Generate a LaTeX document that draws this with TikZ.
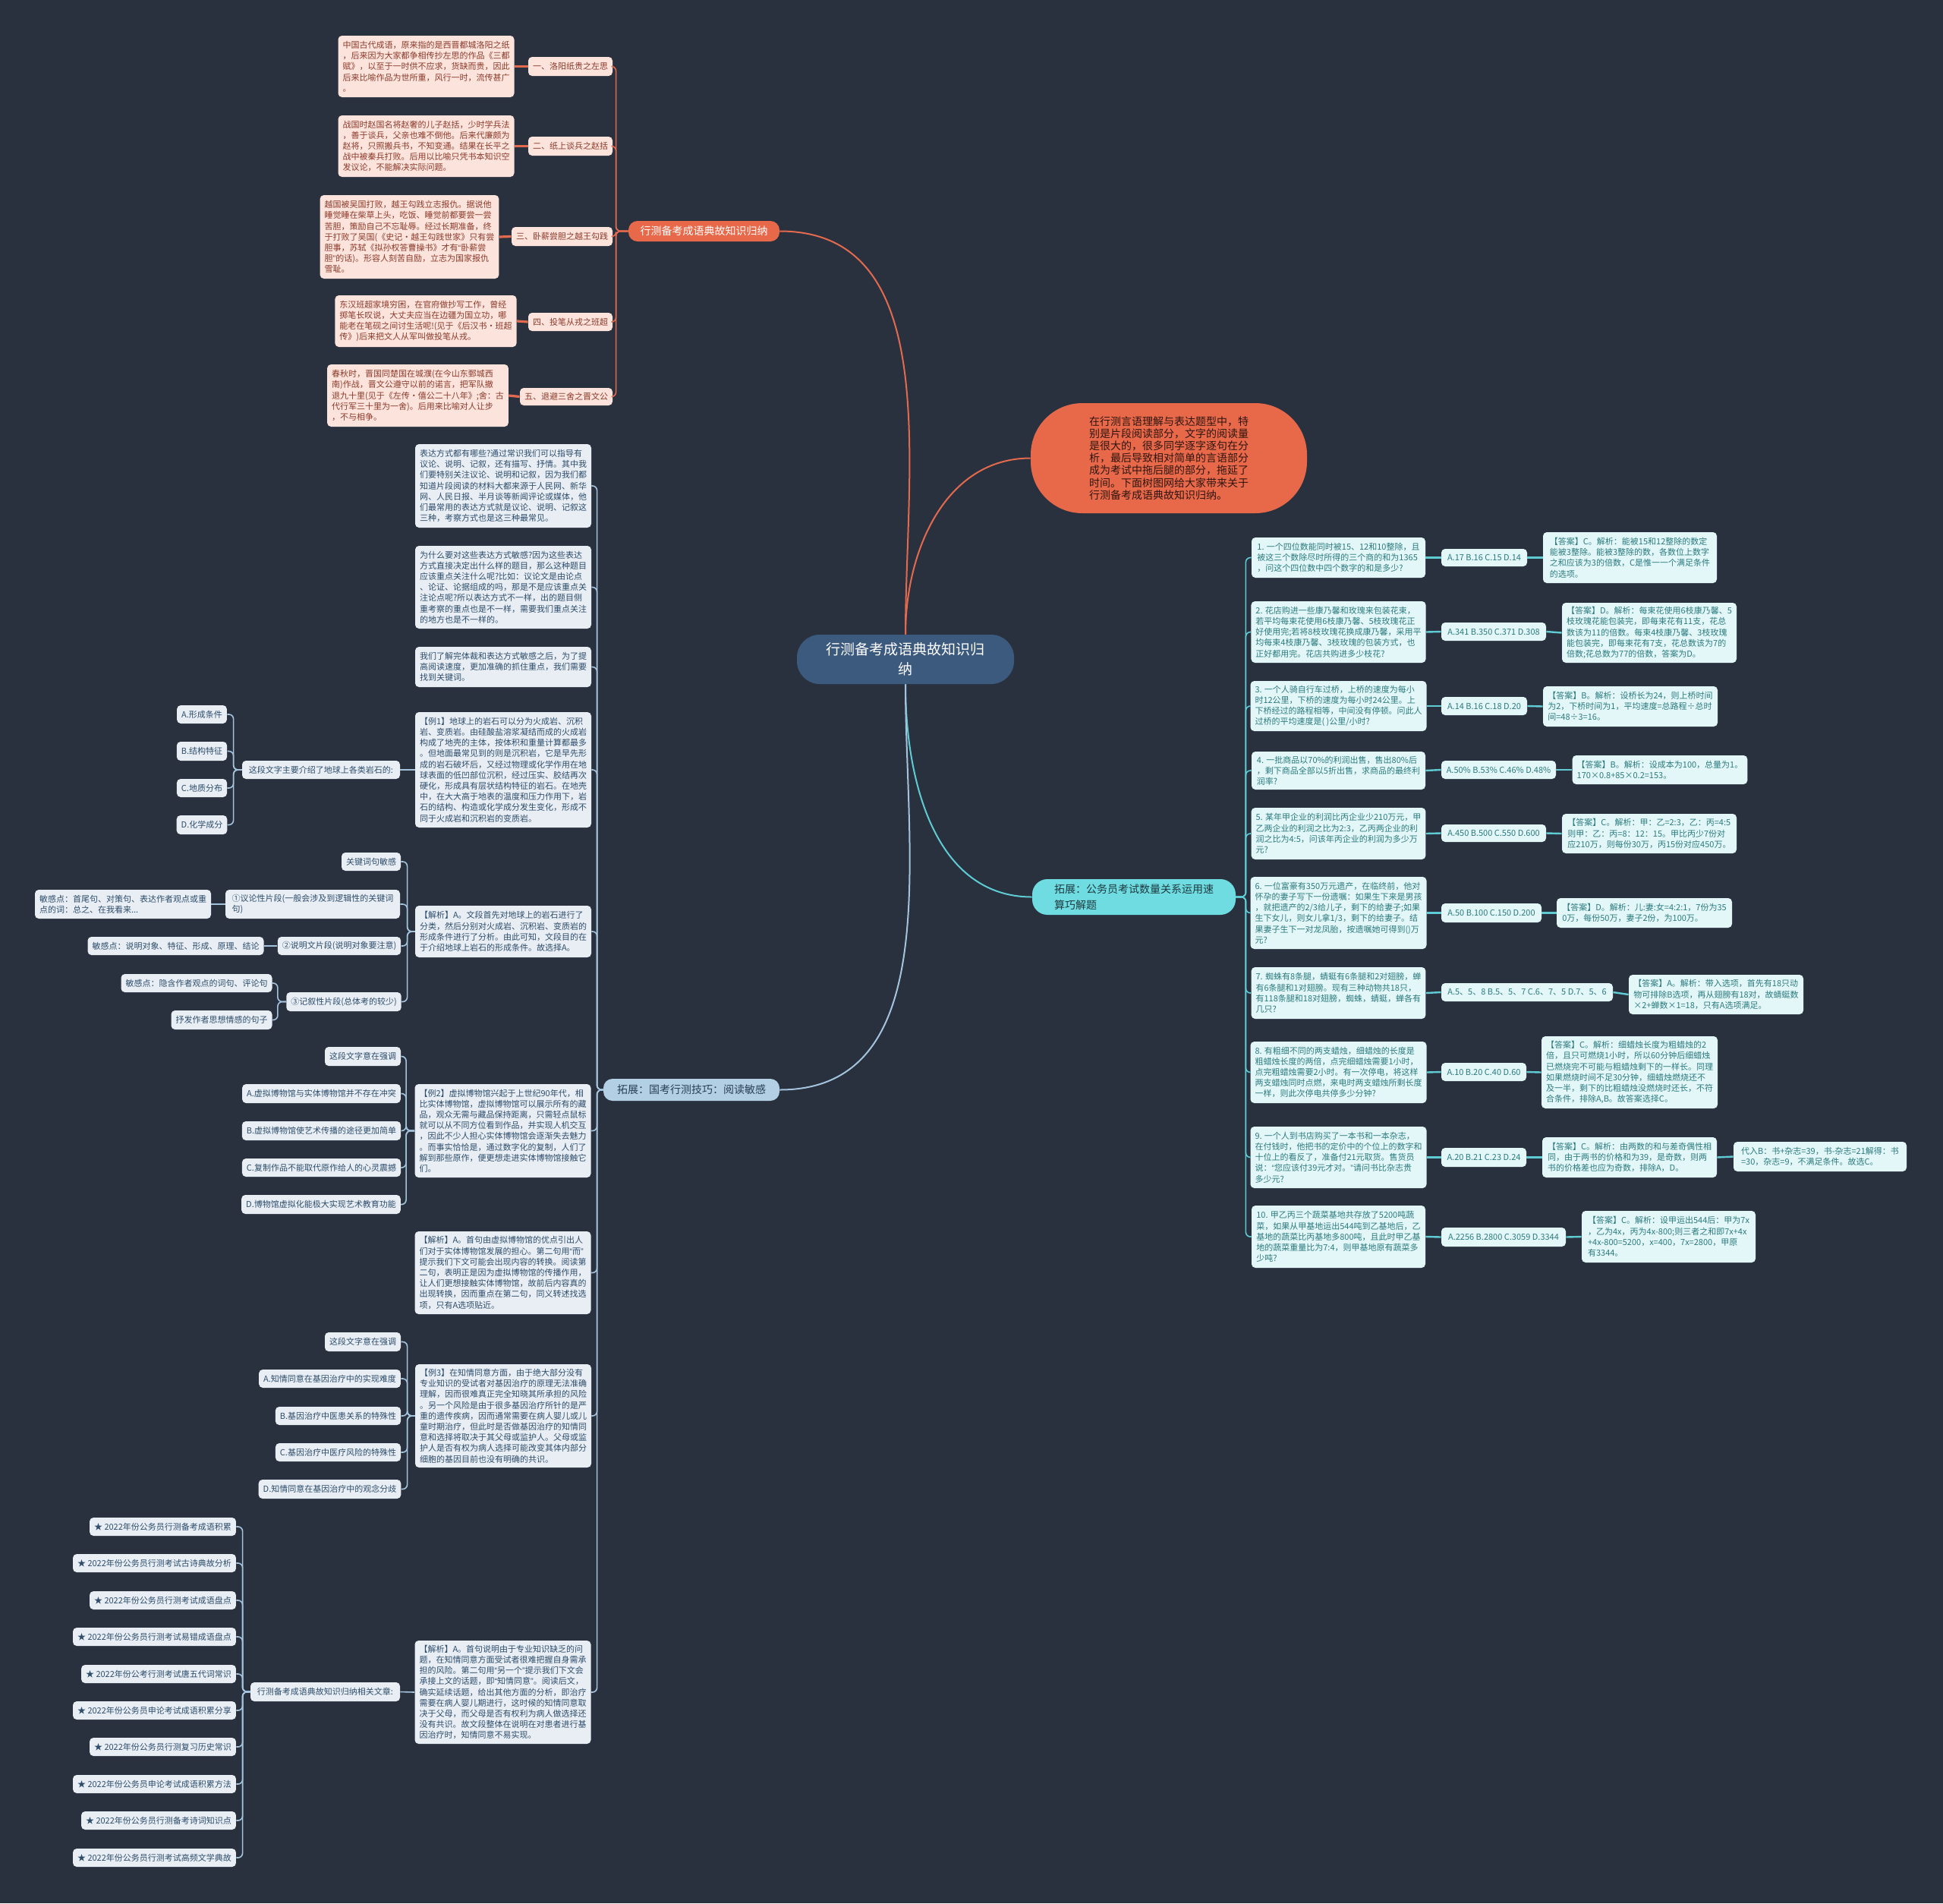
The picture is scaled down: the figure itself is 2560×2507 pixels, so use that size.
\documentclass[tikz,border=0pt]{standalone}
\usepackage{fontspec}
\setmainfont{Noto Sans CJK SC}
\newfontfamily\latf{Liberation Sans}
\newcommand\myq[1]{{\latf “}#1{\latf ”}}
\definecolor{bgc}{HTML}{29313F}
\definecolor{orc}{HTML}{E8694A}
\definecolor{olf}{HTML}{FCE3DB}
\definecolor{otx}{HTML}{8B3A2B}
\definecolor{oln}{HTML}{E36A4E}
\definecolor{ctrc}{HTML}{3C5A7D}
\definecolor{cbr}{HTML}{6FDCE1}
\definecolor{cbt}{HTML}{1E3A40}
\definecolor{clf}{HTML}{E3F7F8}
\definecolor{ctx}{HTML}{2B7A7E}
\definecolor{cln}{HTML}{5FCBD3}
\definecolor{bbr}{HTML}{B3CFE4}
\definecolor{bbt}{HTML}{2A3F57}
\definecolor{blf}{HTML}{E8EEF4}
\definecolor{btx}{HTML}{2E4D6B}
\definecolor{bln}{HTML}{A4C3DD}
\tikzset{
 base/.style={rounded corners=2.5pt, align=left, inner xsep=3pt, inner ysep=2pt, font=\fontsize{5.5}{7.1}\selectfont},
 oleaf/.style={base, fill=olf, text=otx},
 cleaf/.style={base, fill=clf, text=ctx},
 bleaf/.style={base, fill=blf, text=btx},
 obranch/.style={rounded corners=6pt, fill=orc, text=white, font=\fontsize{7}{9}\selectfont, inner sep=1pt},
 cbranch/.style={rounded corners=10pt, fill=cbr, text=cbt, align=left, font=\fontsize{7}{10.5}\selectfont, inner sep=1pt},
 bbranch/.style={rounded corners=6pt, fill=bbr, text=bbt, font=\fontsize{7}{9}\selectfont, inner sep=1pt},
 bubble/.style={rounded corners=34pt, fill=orc, text=black!80!orc, align=left, font=\fontsize{7}{8.1}\selectfont, inner sep=1pt},
 center/.style={rounded corners=15pt, fill=ctrc, text=white, align=center, font=\fontsize{9.5}{13}\selectfont, inner sep=1pt},
 oline/.style={draw=oln, line width=0.8pt},
 cline/.style={draw=cln, line width=0.8pt},
 bline/.style={draw=bln, line width=0.8pt},
 olink/.style={draw=oln, line width=1.6pt},
}
\newcommand\mybx[7]{%
 \pgfmathsetmacro\bw{(#5-#3)/2}%
 \pgfmathsetmacro\bh{(#6-#4)/2}%
 \node[#1,minimum width=\bw pt,minimum height=\bh pt] (#2) at ({(#3+#5)/2},{(#4+#6)/2}) {#7};}
\newcommand\elb[4]{\draw[#1,rounded corners=3pt] (#2) -- ++(#3,0) |- (#4);}
\begin{document}
\begin{tikzpicture}[x=0.5pt,y=-0.5pt]
\fill[bgc] (0,0) rectangle (2560,2507);
\useasboundingbox (0,0) rectangle (2560,2507);

% ---------- center and branches
\mybx{center}{ctr}{1050}{836}{1336}{901}{行测备考成语典故知识归\\纳}
\mybx{obranch}{ob}{828}{291}{1027}{318}{行测备考成语典故知识归纳}
\mybx{bubble}{bub}{1358}{531}{1722}{676}{在行测言语理解与表达题型中，特\\别是片段阅读部分，文字的阅读量\\是很大的，很多同学逐字逐句在分\\析，最后导致相对简单的言语部分\\成为考试中拖后腿的部分，拖延了\\时间。下面树图网给大家带来关于\\行测备考成语典故知识归纳。}
\mybx{cbranch}{cb}{1360}{1158}{1628}{1205}{拓展：公务员考试数量关系运用速\\算巧解题}
\mybx{bbranch}{bb}{795}{1421}{1027}{1450}{拓展：国考行测技巧：阅读敏感}

\draw[oline,line width=1pt] (ctr.north) to[out=90,in=0] (ob.east);
\draw[oline,line width=1pt] (ctr.north) to[out=90,in=180] (bub.west);
\draw[cline,line width=1pt] (ctr.south) to[out=-90,in=180] (cb.west);
\draw[bline,line width=1pt] (ctr.south) to[out=-90,in=0] (bb.east);

% ---------- orange branch
\mybx{oleaf}{ot1}{447}{47}{676}{128}{中国古代成语，原来指的是西晋都城洛阳之纸\\，后来因为大家都争相传抄左思的作品《三都\\赋》，以至于一时供不应求，货缺而贵，因此\\后来比喻作品为世所重，风行一时，流传甚广\\。}
\mybx{oleaf}{o1}{697}{75}{806}{100}{一、洛阳纸贵之左思}
\mybx{oleaf}{ot2}{447}{152}{676}{233}{战国时赵国名将赵奢的儿子赵括，少时学兵法\\，善于谈兵，父亲也难不倒他。后来代廉颇为\\赵将，只照搬兵书，不知变通。结果在长平之\\战中被秦兵打败。后用以比喻只凭书本知识空\\发议论，不能解决实际问题。}
\mybx{oleaf}{o2}{697}{180}{806}{205}{二、纸上谈兵之赵括}
\mybx{oleaf}{ot3}{424}{257}{655}{367}{越国被吴国打败，越王勾践立志报仇。据说他\\睡觉睡在柴草上头，吃饭、睡觉前都要尝一尝\\苦胆，策励自己不忘耻辱。经过长期准备，终\\于打败了吴国(《史记·越王勾践世家》只有尝\\胆事，苏轼《拟孙权答曹操书》才有{\latf “}卧薪尝\\胆{\latf ”}的话)。形容人刻苦自励，立志为国家报仇\\雪耻。}
\mybx{oleaf}{o3}{675}{299}{806}{324}{三、卧薪尝胆之越王勾践}
\mybx{oleaf}{ot4}{446}{389}{676}{457}{东汉班超家境穷困，在官府做抄写工作，曾经\\掷笔长叹说，大丈夫应当在边疆为国立功，哪\\能老在笔砚之间讨生活呢!(见于《后汉书·班超\\传》)后来把文人从军叫做投笔从戎。}
\mybx{oleaf}{o4}{697}{412}{806}{436}{四、投笔从戎之班超}
\mybx{oleaf}{ot5}{435}{480}{666}{562}{春秋时，晋国同楚国在城濮(在今山东鄄城西\\南)作战，晋文公遵守以前的诺言，把军队撤\\退九十里(见于《左传·僖公二十八年》;舍：古\\代行军三十里为一舍)。后用来比喻对人让步\\，不与相争。}
\mybx{oleaf}{o5}{686}{511}{806}{534}{五、退避三舍之晋文公}
\foreach \i in {1,...,5}{
 \elb{oline}{ob.west}{-16}{o\i.east}
 \draw[olink] (o\i.west) -- (ot\i.east);
}

% ---------- cyan branch: questions
\mybx{cleaf}{q1}{1649}{708}{1878}{761}{1. 一个四位数能同时被15、12和10整除，且\\被这三个数除尽时所得的三个商的和为1365\\，问这个四位数中四个数字的和是多少?}
\mybx{cleaf}{p1}{1899}{723}{2012}{746}{A.17 B.16 C.15 D.14}
\mybx{cleaf}{a1}{2033}{701}{2262}{768}{【答案】C。解析：能被15和12整除的数定\\能被3整除。能被3整除的数，各数位上数字\\之和应该为3的倍数，C是惟一一个满足条件\\的选项。}
\mybx{cleaf}{q2}{1649}{792}{1878}{873}{2. 花店购进一些康乃馨和玫瑰来包装花束，\\若平均每束花使用6枝康乃馨、5枝玫瑰花正\\好使用完;若将8枝玫瑰花换成康乃馨，采用平\\均每束4枝康乃馨、3枝玫瑰的包装方式，也\\正好都用完。花店共购进多少枝花?}
\mybx{cleaf}{p2}{1899}{820}{2037}{844}{A.341 B.350 C.371 D.308}
\mybx{cleaf}{a2}{2058}{794}{2288}{873}{【答案】D。解析：每束花使用6枝康乃馨、5\\枝玫瑰花能包装完，即每束花有11支，花总\\数该为11的倍数。每束4枝康乃馨、3枝玫瑰\\能包装完，即每束花有7支，花总数该为7的\\倍数;花总数为77的倍数，答案为D。}
\mybx{cleaf}{q3}{1649}{897}{1878}{963}{3. 一个人骑自行车过桥，上桥的速度为每小\\时12公里，下桥的速度为每小时24公里。上\\下桥经过的路程相等，中间没有停顿。问此人\\过桥的平均速度是( )公里/小时?}
\mybx{cleaf}{p3}{1899}{918}{2012}{942}{A.14 B.16 C.18 D.20}
\mybx{cleaf}{a3}{2033}{904}{2263}{957}{【答案】B。解析：设桥长为24，则上桥时间\\为2，下桥时间为1，平均速度=总路程÷总时\\间=48÷3=16。}
\mybx{cleaf}{q4}{1649}{990}{1878}{1040}{4. 一批商品以70\%的利润出售，售出80\%后\\，剩下商品全部以5折出售，求商品的最终利\\润率?}
\mybx{cleaf}{p4}{1899}{1002}{2050}{1026}{A.50\% B.53\% C.46\% D.48\%}
\mybx{cleaf}{a4}{2072}{995}{2302}{1033}{【答案】B。解析：设成本为100，总量为1。\\170×0.8+85×0.2=153。}
\mybx{cleaf}{q5}{1649}{1064}{1878}{1132}{5. 某年甲企业的利润比丙企业少210万元，甲\\乙两企业的利润之比为2:3，乙丙两企业的利\\润之比为4:5，问该年丙企业的利润为多少万\\元?}
\mybx{cleaf}{p5}{1899}{1086}{2037}{1109}{A.450 B.500 C.550 D.600}
\mybx{cleaf}{a5}{2058}{1072}{2288}{1124}{【答案】C。解析：甲：乙=2:3，乙：丙=4:5\\则甲：乙：丙=8：12：15。甲比丙少7份对\\应210万，则每份30万，丙15份对应450万。}
\mybx{cleaf}{q6}{1649}{1155}{1878}{1250}{6. 一位富豪有350万元遗产，在临终前，他对\\怀孕的妻子写下一份遗嘱：如果生下来是男孩\\，就把遗产的2/3给儿子，剩下的给妻子;如果\\生下女儿，则女儿拿1/3，剩下的给妻子。结\\果妻子生下一对龙凤胎，按遗嘱她可得到()万\\元?}
\mybx{cleaf}{p6}{1899}{1190}{2031}{1215}{A.50 B.100 C.150 D.200}
\mybx{cleaf}{a6}{2051}{1183}{2282}{1222}{【答案】D。解析：儿:妻:女=4:2:1，7份为35\\0万，每份50万，妻子2份，为100万。}
\mybx{cleaf}{q7}{1649}{1274}{1878}{1342}{7. 蜘蛛有8条腿，蜻蜓有6条腿和2对翅膀，蝉\\有6条腿和1对翅膀。现有三种动物共18只，\\有118条腿和18对翅膀，蜘蛛，蜻蜓，蝉各有\\几只?}
\mybx{cleaf}{p7}{1899}{1295}{2125}{1319}{A.5、5、8 B.5、5、7 C.6、7、5 D.7、5、6}
\mybx{cleaf}{a7}{2146}{1284}{2376}{1336}{【答案】A。解析：带入选项，首先有18只动\\物可排除B选项，再从翅膀有18对，故蜻蜓数\\×2+蝉数×1=18，只有A选项满足。}
\mybx{cleaf}{q8}{1649}{1372}{1878}{1453}{8. 有粗细不同的两支蜡烛，细蜡烛的长度是\\粗蜡烛长度的两倍，点完细蜡烛需要1小时，\\点完粗蜡烛需要2小时。有一次停电，将这样\\两支蜡烛同时点燃，来电时两支蜡烛所剩长度\\一样，则此次停电共停多少分钟?}
\mybx{cleaf}{p8}{1899}{1400}{2011}{1424}{A.10 B.20 C.40 D.60}
\mybx{cleaf}{a8}{2032}{1365}{2262}{1460}{【答案】C。解析：细蜡烛长度为粗蜡烛的2\\倍，且只可燃烧1小时，所以60分钟后细蜡烛\\已燃烧完不可能与粗蜡烛剩下的一样长。同理\\如果燃烧时间不足30分钟，细蜡烛燃烧还不\\及一半，剩下的比粗蜡烛没燃烧时还长，不符\\合条件，排除A,B。故答案选择C。}
\mybx{cleaf}{q9}{1649}{1484}{1878}{1565}{9. 一个人到书店购买了一本书和一本杂志，\\在付钱时，他把书的定价中的个位上的数字和\\十位上的看反了，准备付21元取货。售货员\\说：\myq{您应该付39元才对。}请问书比杂志贵\\多少元?}
\mybx{cleaf}{p9}{1899}{1512}{2011}{1537}{A.20 B.21 C.23 D.24}
\mybx{cleaf}{a9}{2032}{1498}{2262}{1551}{【答案】C。解析：由两数的和与差奇偶性相\\同，由于两书的价格和为39，是奇数，则两\\书的价格差也应为奇数，排除A，D。}
\mybx{cleaf}{x9}{2284}{1504}{2512}{1543}{代入B：书+杂志=39，书-杂志=21解得：书\\=30，杂志=9，不满足条件。故选C。}
\mybx{cleaf}{q10}{1649}{1588}{1878}{1670}{10. 甲乙丙三个蔬菜基地共存放了5200吨蔬\\菜，如果从甲基地运出544吨到乙基地后，乙\\基地的蔬菜比丙基地多800吨，且此时甲乙基\\地的蔬菜重量比为7:4，则甲基地原有蔬菜多\\少吨?}
\mybx{cleaf}{p10}{1899}{1617}{2063}{1642}{A.2256 B.2800 C.3059 D.3344}
\mybx{cleaf}{a10}{2084}{1595}{2313}{1663}{【答案】C。解析：设甲运出544后：甲为7x\\，乙为4x，丙为4x-800;则三者之和即7x+4x\\+4x-800=5200，x=400，7x=2800，甲原\\有3344。}
\foreach \i in {1,...,10}{
 \elb{cline}{cb.east}{13}{q\i.west}
 \draw[cline,line width=1.2pt] (q\i.east) -- (p\i.west);
 \draw[cline,line width=1.2pt] (p\i.east) -- (a\i.west);
}
\draw[cline,line width=1.2pt] (a9.east) -- (x9.west);

% ---------- blue branch
\mybx{bleaf}{m1}{548}{585}{778}{695}{表达方式都有哪些?通过常识我们可以指导有\\议论、说明、记叙，还有描写、抒情。其中我\\们要特别关注议论、说明和记叙，因为我们都\\知道片段阅读的材料大都来源于人民网、新华\\网、人民日报、半月谈等新闻评论或媒体，他\\们最常用的表达方式就是议论、说明、记叙这\\三种，考察方式也是这三种最常见。}
\mybx{bleaf}{m2}{548}{719}{778}{828}{为什么要对这些表达方式敏感?因为这些表达\\方式直接决定出什么样的题目，那么这种题目\\应该重点关注什么呢?比如：议论文是由论点\\、论证、论据组成的吗，那是不是应该重点关\\注论点呢?所以表达方式不一样，出的题目侧\\重考察的重点也是不一样，需要我们重点关注\\的地方也是不一样的。}
\mybx{bleaf}{m3}{548}{852}{778}{905}{我们了解完体裁和表达方式敏感之后，为了提\\高阅读速度，更加准确的抓住重点，我们需要\\找到关键词。}
\mybx{bleaf}{m4}{548}{938}{778}{1090}{【例1】地球上的岩石可以分为火成岩、沉积\\岩、变质岩。由硅酸盐溶浆凝结而成的火成岩\\构成了地壳的主体，按体积和重量计算都最多\\。但地面最常见到的则是沉积岩，它是早先形\\成的岩石破坏后，又经过物理或化学作用在地\\球表面的低凹部位沉积，经过压实、胶结再次\\硬化，形成具有层状结构特征的岩石。在地壳\\中，在大大高于地表的温度和压力作用下，岩\\石的结构、构造或化学成分发生变化，形成不\\同于火成岩和沉积岩的变质岩。}
\mybx{bleaf}{m5}{548}{1193}{778}{1261}{【解析】A。文段首先对地球上的岩石进行了\\分类，然后分别对火成岩、沉积岩、变质岩的\\形成条件进行了分析。由此可知，文段目的在\\于介绍地球上岩石的形成条件。故选择A。}
\mybx{bleaf}{m6}{548}{1428}{777}{1551}{【例2】虚拟博物馆兴起于上世纪90年代，相\\比实体博物馆，虚拟博物馆可以展示所有的藏\\品，观众无需与藏品保持距离，只需轻点鼠标\\就可以从不同方位看到作品，并实现人机交互\\，因此不少人担心实体博物馆会逐渐失去魅力\\。而事实恰恰是，通过数字化的复制，人们了\\解到那些原作，便更想走进实体博物馆接触它\\们。}
\mybx{bleaf}{m7}{548}{1622}{777}{1731}{【解析】A。首句由虚拟博物馆的优点引出人\\们对于实体博物馆发展的担心。第二句用\myq{而}\\提示我们下文可能会出现内容的转换。阅读第\\二句，表明正是因为虚拟博物馆的传播作用，\\让人们更想接触实体博物馆，故前后内容真的\\出现转换，因而重点在第二句，同义转述找选\\项，只有A选项贴近。}
\mybx{bleaf}{m8}{548}{1797}{778}{1933}{【例3】在知情同意方面，由于绝大部分没有\\专业知识的受试者对基因治疗的原理无法准确\\理解，因而很难真正完全知晓其所承担的风险\\。另一个风险是由于很多基因治疗所针的是严\\重的遗传疾病，因而通常需要在病人婴儿或儿\\童时期治疗，但此时是否做基因治疗的知情同\\意和选择将取决于其父母或监护人。父母或监\\护人是否有权为病人选择可能改变其体内部分\\细胞的基因目前也没有明确的共识。}
\mybx{bleaf}{m9}{548}{2161}{777}{2297}{【解析】A。首句说明由于专业知识缺乏的问\\题，在知情同意方面受试者很难把握自身需承\\担的风险。第二句用\myq{另一个}提示我们下文会\\承接上文的话题，即\myq{知情同意}。阅读后文，\\确实延续话题，给出其他方面的分析，即治疗\\需要在病人婴儿期进行，这时候的知情同意取\\决于父母，而父母是否有权利为病人做选择还\\没有共识。故文段整体在说明在对患者进行基\\因治疗时，知情同意不易实现。}
\foreach \i in {1,...,9}{
 \elb{bline}{bb.west}{-8}{m\i.east}
}

% example 1 sub-tree
\mybx{bleaf}{l1}{319}{1002}{527}{1026}{这段文字主要介绍了地球上各类岩石的:}
\mybx{bleaf}{la}{234}{929}{298}{953}{A.形成条件}
\mybx{bleaf}{lb}{234}{977}{298}{1002}{B.结构特征}
\mybx{bleaf}{lc}{234}{1026}{298}{1050}{C.地质分布}
\mybx{bleaf}{ld}{234}{1074}{298}{1099}{D.化学成分}
\draw[bline] (m4.west) -- (l1.east);
\foreach \n in {la,lb,lc,ld}{\elb{bline}{l1.west}{-11}{\n.east}}

% analysis 1 sub-tree
\mybx{bleaf}{k0}{451}{1123}{527}{1147}{关键词句敏感}
\mybx{bleaf}{k1}{297}{1172}{527}{1210}{①议论性片段(一般会涉及到逻辑性的关键词\\句)}
\mybx{bleaf}{s1}{47}{1172}{277}{1210}{敏感点：首尾句、对策句、表达作者观点或重\\点的词：总之、在我看来...}
\mybx{bleaf}{k2}{367}{1234}{527}{1258}{②说明文片段(说明对象要注意)}
\mybx{bleaf}{s2}{117}{1234}{346}{1258}{敏感点：说明对象、特征、形成、原理、结论}
\mybx{bleaf}{k3}{379}{1307}{527}{1332}{③记叙性片段(总体考的较少)}
\mybx{bleaf}{s3a}{161}{1283}{357}{1307}{敏感点：隐含作者观点的词句、评论句}
\mybx{bleaf}{s3b}{227}{1331}{357}{1356}{抒发作者思想情感的句子}
\foreach \n in {k0,k1,k2,k3}{\elb{bline}{m5.west}{-10}{\n.east}}
\draw[bline] (k1.west) -- (s1.east);
\draw[bline] (k2.west) -- (s2.east);
\foreach \n in {s3a,s3b}{\elb{bline}{k3.west}{-11}{\n.east}}

% example 2 sub-tree
\mybx{bleaf}{e2h}{429}{1379}{527}{1404}{这段文字意在强调}
\mybx{bleaf}{e2a}{320}{1428}{527}{1453}{A.虚拟博物馆与实体博物馆并不存在冲突}
\mybx{bleaf}{e2b}{320}{1477}{527}{1502}{B.虚拟博物馆使艺术传播的途径更加简单}
\mybx{bleaf}{e2c}{320}{1526}{527}{1550}{C.复制作品不能取代原作给人的心灵震撼}
\mybx{bleaf}{e2d}{319}{1574}{527}{1599}{D.博物馆虚拟化能极大实现艺术教育功能}
\foreach \n in {e2h,e2a,e2b,e2c,e2d}{\elb{bline}{m6.west}{-11}{\n.east}}

% example 3 sub-tree
\mybx{bleaf}{e3h}{429}{1755}{527}{1780}{这段文字意在强调}
\mybx{bleaf}{e3a}{342}{1804}{527}{1828}{A.知情同意在基因治疗中的实现难度}
\mybx{bleaf}{e3b}{364}{1853}{527}{1877}{B.基因治疗中医患关系的特殊性}
\mybx{bleaf}{e3c}{364}{1901}{527}{1925}{C.基因治疗中医疗风险的特殊性}
\mybx{bleaf}{e3d}{342}{1949}{527}{1974}{D.知情同意在基因治疗中的观念分歧}
\foreach \n in {e3h,e3a,e3b,e3c,e3d}{\elb{bline}{m8.west}{-10}{\n.east}}

% related articles
\mybx{bleaf}{rel}{330}{2216}{527}{2241}{行测备考成语典故知识归纳相关文章:}
\draw[bline] (m9.west) -- (rel.east);
\mybx{bleaf}{r1}{119}{1999}{310}{2023}{★ 2022年份公务员行测备考成语积累}
\mybx{bleaf}{r2}{97}{2047}{310}{2071}{★ 2022年份公务员行测考试古诗典故分析}
\mybx{bleaf}{r3}{119}{2096}{310}{2120}{★ 2022年份公务员行测考试成语盘点}
\mybx{bleaf}{r4}{97}{2144}{310}{2168}{★ 2022年份公务员行测考试易错成语盘点}
\mybx{bleaf}{r5}{108}{2193}{310}{2217}{★ 2022年份公考行测考试唐五代词常识}
\mybx{bleaf}{r6}{97}{2241}{310}{2265}{★ 2022年份公务员申论考试成语积累分享}
\mybx{bleaf}{r7}{119}{2289}{310}{2313}{★ 2022年份公务员行测复习历史常识}
\mybx{bleaf}{r8}{97}{2338}{310}{2362}{★ 2022年份公务员申论考试成语积累方法}
\mybx{bleaf}{r9}{108}{2386}{310}{2410}{★ 2022年份公务员行测备考诗词知识点}
\mybx{bleaf}{r10}{97}{2435}{310}{2459}{★ 2022年份公务员行测考试高频文学典故}
\foreach \i in {1,...,10}{\elb{bline}{rel.west}{-10}{r\i.east}}
\end{tikzpicture}
\end{document}
